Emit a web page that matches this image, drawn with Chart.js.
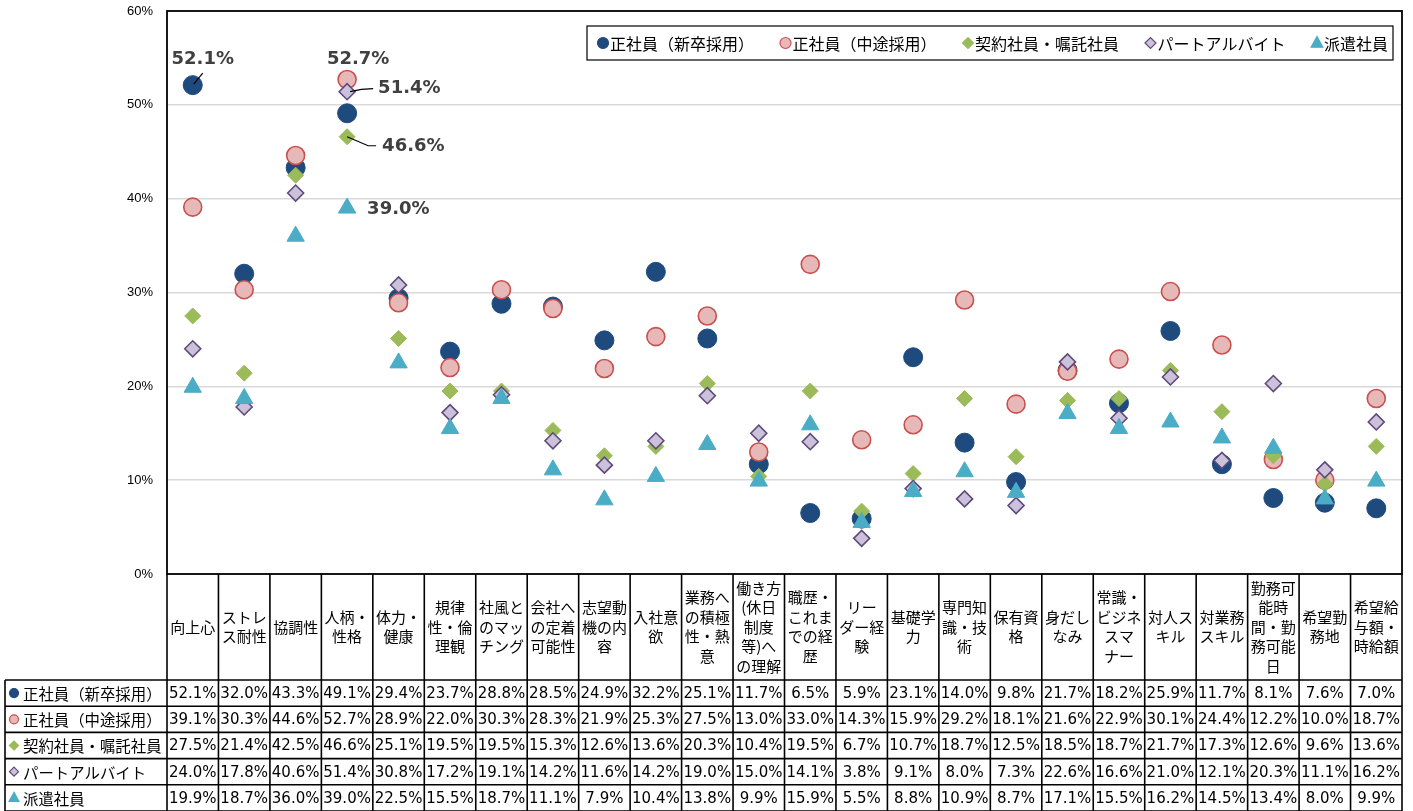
<!DOCTYPE html>
<html>
<head>
<meta charset="utf-8">
<script src="https://cdn.jsdelivr.net/npm/chart.js@4.4.0/dist/chart.umd.min.js"></script>
<style>
  html, body { margin: 0; padding: 0; background: #fff; }
</style>
</head>
<body>
<canvas id="chart" width="1413" height="811"></canvas>
<script>
// --- Data ---
const categories = [
  ['向上心'], ['ストレ', 'ス耐性'], ['協調性'], ['人柄・', '性格'], ['体力・', '健康'],
  ['規律', '性・倫', '理観'], ['社風と', 'のマッ', 'チング'], ['会社へ', 'の定着', '可能性'],
  ['志望動', '機の内', '容'], ['入社意', '欲'], ['業務へ', 'の積極', '性・熱', '意'],
  ['働き方', '(休日', '制度', '等)へ', 'の理解'], ['職歴・', 'これま', 'での経', '歴'],
  ['リー', 'ダー経', '験'], ['基礎学', '力'], ['専門知', '識・技', '術'], ['保有資', '格'],
  ['身だし', 'なみ'], ['常識・', 'ビジネ', 'スマ', 'ナー'], ['対人ス', 'キル'], ['対業務', 'スキル'],
  ['勤務可', '能時', '間・勤', '務可能', '日'], ['希望勤', '務地'], ['希望給', '与額・', '時給額']
];

const seriesNames = ['正社員（新卒採用）', '正社員（中途採用）', '契約社員・嘱託社員', 'パートアルバイト', '派遣社員'];

const shinsotsu = [52.1, 32.0, 43.3, 49.1, 29.4, 23.7, 28.8, 28.5, 24.9, 32.2, 25.1, 11.7, 6.5, 5.9, 23.1, 14.0, 9.8, 21.7, 18.2, 25.9, 11.7, 8.1, 7.6, 7.0];
const chuto = [39.1, 30.3, 44.6, 52.7, 28.9, 22.0, 30.3, 28.3, 21.9, 25.3, 27.5, 13.0, 33.0, 14.3, 15.9, 29.2, 18.1, 21.6, 22.9, 30.1, 24.4, 12.2, 10.0, 18.7];
const keiyaku = [27.5, 21.4, 42.5, 46.6, 25.1, 19.5, 19.5, 15.3, 12.6, 13.6, 20.3, 10.4, 19.5, 6.7, 10.7, 18.7, 12.5, 18.5, 18.7, 21.7, 17.3, 12.6, 9.6, 13.6];
const part = [24.0, 17.8, 40.6, 51.4, 30.8, 17.2, 19.1, 14.2, 11.6, 14.2, 19.0, 15.0, 14.1, 3.8, 9.1, 8.0, 7.3, 22.6, 16.6, 21.0, 12.1, 20.3, 11.1, 16.2];
const haken = [19.9, 18.7, 36.0, 39.0, 22.5, 15.5, 18.7, 11.1, 7.9, 10.4, 13.8, 9.9, 15.9, 5.5, 8.8, 10.9, 8.7, 17.1, 15.5, 16.2, 14.5, 13.4, 8.0, 9.9];
const seriesValues = [shinsotsu, chuto, keiyaku, part, haken];

const yTicks = [0, 10, 20, 30, 40, 50, 60];

// callouts: [series index, category index]
const callouts = [[0, 0], [1, 3], [3, 3], [2, 3], [4, 3]];

// --- Styles ---
const markers = [
  { style: 'circle', radius: 9.5, fill: '#1F4A7E', stroke: '#1F4A7E', width: 1 },
  { style: 'circle', radius: 9, fill: '#E6B9B8', stroke: '#C9504D', width: 1.6 },
  { style: 'rectRot', radius: 8, fill: '#9BBB59', stroke: '#9BBB59', width: 1 },
  { style: 'rectRot', radius: 8, fill: '#CCC1DA', stroke: '#5F497A', width: 1.6 },
  { style: 'triangle', radius: 10, fill: '#4BACC6', stroke: '#4BACC6', width: 1 }
];

const JP = '"Noto Sans CJK JP", "Noto Sans", sans-serif';
const HEADER_H = 106;
const ROW_H = 26.2;
const TABLE_LEFT = 5;

function drawMarker(ctx, m, x, y, r) {
  ctx.save();
  ctx.beginPath();
  if (m.style === 'circle') {
    ctx.arc(x, y, r, 0, Math.PI * 2);
  } else if (m.style === 'rectRot') {
    ctx.moveTo(x - r, y); ctx.lineTo(x, y - r); ctx.lineTo(x + r, y); ctx.lineTo(x, y + r);
    ctx.closePath();
  } else {
    ctx.moveTo(x, y - r); ctx.lineTo(x + r * 0.9, y + r * 0.65); ctx.lineTo(x - r * 0.9, y + r * 0.65);
    ctx.closePath();
  }
  ctx.fillStyle = m.fill;
  ctx.fill();
  ctx.lineWidth = 1.2;
  ctx.strokeStyle = m.stroke;
  ctx.stroke();
  ctx.restore();
}

function line(ctx, x1, y1, x2, y2) {
  ctx.beginPath(); ctx.moveTo(x1, y1); ctx.lineTo(x2, y2); ctx.stroke();
}

// --- Plugin: frame, legend, table, callouts ---
const tablePlugin = {
  id: 'dataTable',
  afterDatasetsDraw(chart) {
    const { ctx, chartArea: a, scales: { x } } = chart;
    const colW = x.getPixelForValue(1) - x.getPixelForValue(0);
    const tableBottom = a.bottom + HEADER_H + ROW_H * seriesNames.length;

    ctx.save();
    // plot frame
    ctx.strokeStyle = '#000';
    ctx.lineWidth = 1.8;
    ctx.strokeRect(a.left, a.top, a.right - a.left, a.bottom - a.top);

    // callouts
    ctx.fillStyle = '#404040';
    ctx.strokeStyle = '#000';
    ctx.lineWidth = 1.2;
    ctx.font = 'bold 18px "DejaVu Sans", sans-serif';
    ctx.textBaseline = 'middle';
    callouts.forEach(([s, c]) => {
      const p = chart.getDatasetMeta(s).data[c];
      const txt = seriesValues[s][c].toFixed(1) + '%';
      if (s === 0) {
        line(ctx, p.x + 1, p.y - 1, p.x + 10, p.y - 12);
        ctx.textAlign = 'center'; ctx.fillText(txt, p.x + 10, p.y - 26);
      } else if (s === 1) {
        ctx.textAlign = 'center'; ctx.fillText(txt, p.x + 11, p.y - 20);
      } else if (s === 3) {
        ctx.beginPath(); ctx.moveTo(p.x + 3, p.y); ctx.quadraticCurveTo(p.x + 14, p.y - 3, p.x + 26, p.y - 3); ctx.stroke();
        ctx.textAlign = 'left'; ctx.fillText(txt, p.x + 31, p.y - 3);
      } else if (s === 2) {
        ctx.beginPath(); ctx.moveTo(p.x, p.y); ctx.lineTo(p.x + 21, p.y + 9); ctx.lineTo(p.x + 29, p.y + 9); ctx.stroke();
        ctx.textAlign = 'left'; ctx.fillText(txt, p.x + 35, p.y + 10);
      } else {
        ctx.textAlign = 'left'; ctx.fillText(txt, p.x + 20, p.y + 1);
      }
    });

    // legend box
    ctx.font = '16px ' + JP;
    let cursor = 598;
    const legTop = 26, legH = 34, legMid = legTop + legH / 2;
    const items = seriesNames.map((n, i) => {
      const item = { i, n, mx: cursor + 5, tx: cursor + 12 };
      cursor = item.tx + ctx.measureText(n).width + 26.5;
      return item;
    });
    const legLeft = 587;
    const legRight = cursor - 26.5 + 5;
    ctx.fillStyle = '#fff';
    ctx.fillRect(legLeft, legTop, legRight - legLeft, legH);
    ctx.lineWidth = 1.2;
    ctx.strokeStyle = '#000';
    ctx.strokeRect(legLeft, legTop, legRight - legLeft, legH);
    items.forEach(it => {
      drawMarker(ctx, markers[it.i], it.mx, legMid, it.i === 4 ? 6.5 : 5.5);
      ctx.fillStyle = '#000';
      ctx.textAlign = 'left';
      ctx.fillText(it.n, it.tx, legMid + 1);
    });

    // table grid
    ctx.strokeStyle = '#000';
    ctx.lineWidth = 1.6;
    for (let c = 0; c <= categories.length; c++) {
      const xx = x.getPixelForValue(0) - colW / 2 + c * colW;
      line(ctx, xx, a.bottom, xx, tableBottom);
    }
    for (let r = 0; r <= seriesNames.length; r++) {
      const yy = a.bottom + HEADER_H + r * ROW_H;
      line(ctx, TABLE_LEFT, yy, a.right, yy);
    }
    line(ctx, TABLE_LEFT, a.bottom + HEADER_H, TABLE_LEFT, tableBottom);

    // category header
    ctx.fillStyle = '#000';
    ctx.textAlign = 'center';
    ctx.font = '15px ' + JP;
    const lh = 19.5;
    const headMid = a.bottom + HEADER_H / 2;
    categories.forEach((lines, c) => {
      const cx = x.getPixelForValue(c);
      const y0 = headMid - (lines.length - 1) * lh / 2;
      lines.forEach((t, k) => ctx.fillText(t, cx, y0 + k * lh));
    });

    // rows
    seriesNames.forEach((n, s) => {
      const cy = a.bottom + HEADER_H + s * ROW_H + ROW_H / 2;
      drawMarker(ctx, markers[s], 14, cy, s === 4 ? 5.5 : 4.5);
      ctx.fillStyle = '#000';
      ctx.textAlign = 'left';
      ctx.font = '15.4px ' + JP;
      ctx.fillText(n, 23, cy + 1);
      ctx.textAlign = 'center';
      ctx.font = '15px "DejaVu Sans", sans-serif';
      seriesValues[s].forEach((v, c) => {
        ctx.fillText(v.toFixed(1) + '%', x.getPixelForValue(c), cy + 1);
      });
    });
    ctx.restore();
  }
};

new Chart(document.getElementById('chart'), {
  type: 'line',
  data: {
    labels: categories.map(c => c.join('')),
    datasets: seriesNames.map((name, i) => ({
      label: name,
      data: seriesValues[i],
      showLine: false,
      order: seriesNames.length - i,
      pointStyle: markers[i].style,
      pointRadius: markers[i].radius,
      pointBackgroundColor: markers[i].fill,
      pointBorderColor: markers[i].stroke,
      pointBorderWidth: markers[i].width
    }))
  },
  options: {
    responsive: false,
    animation: false,
    events: [],
    layout: { padding: { top: 10, right: 11, bottom: 237, left: 0 } },
    plugins: { legend: { display: false }, tooltip: { enabled: false } },
    scales: {
      x: { type: 'category', offset: true, display: false },
      y: {
        min: yTicks[0],
        max: yTicks[yTicks.length - 1],
        afterBuildTicks: s => { s.ticks = yTicks.map(v => ({ value: v })); },
        afterFit: s => { s.width = 167; s.paddingTop = 0; s.paddingBottom = 0; },
        ticks: {
          padding: 14,
          color: '#000',
          font: { family: '"Liberation Sans", Arial, sans-serif', size: 13 },
          callback: v => v + '%'
        },
        grid: { color: '#D9D9D9', lineWidth: 1.4, drawTicks: false },
        border: { display: false }
      }
    }
  },
  plugins: [tablePlugin]
});
</script>
</body>
</html>
